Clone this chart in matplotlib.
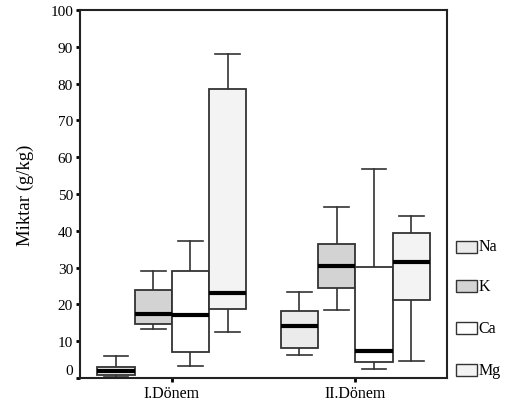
import matplotlib
matplotlib.use("Agg")
import matplotlib.pyplot as plt
import matplotlib.transforms as mtransforms
from matplotlib.patches import Rectangle

# Five-number summaries (lower whisker, Q1, median, Q3, upper whisker) in g/kg
periods = ["I.Dönem", "II.Dönem"]
elements = ["Na", "K", "Ca", "Mg"]

na_stats = [[0.3, 0.8, 2.0, 3.1, 6.0], [6.3, 8.2, 14.2, 18.1, 23.3]]
k_stats = [[13.2, 14.7, 17.4, 23.9, 29.2], [18.5, 24.5, 30.3, 36.3, 46.6]]
ca_stats = [[3.2, 7.1, 17.1, 29.0, 37.3], [2.4, 4.3, 7.3, 30.1, 56.8]]
mg_stats = [[12.6, 18.8, 23.0, 78.6, 88.1], [4.7, 21.1, 31.4, 39.3, 43.9]]

y_ticks = [0, 10, 20, 30, 40, 50, 60, 70, 80, 90, 100]

fills = {"Na": "#ebebeb", "K": "#d3d3d3", "Ca": "#ffffff", "Mg": "#f3f3f3"}
all_stats = {"Na": na_stats, "K": k_stats, "Ca": ca_stats, "Mg": mg_stats}

plt.rcParams["font.family"] = ["Liberation Serif", "DejaVu Serif"]

fig = plt.figure(figsize=(5.11, 4.10), dpi=100)
ax = fig.add_axes([0.1566, 0.0756, 0.7182, 0.8976])

box_w = 0.203
cap_w = 0.135
edge = "#333333"

for gi, period in enumerate(periods):
    center = gi + 1
    for ei, el in enumerate(elements):
        lo, q1, med, q3, hi = all_stats[el][gi]
        x = center + (ei - 1.5) * box_w
        # whiskers and caps
        ax.plot([x, x], [q3, hi], color=edge, lw=1.2, zorder=2)
        ax.plot([x, x], [lo, q1], color=edge, lw=1.2, zorder=2)
        ax.plot([x - cap_w / 2, x + cap_w / 2], [hi, hi], color=edge, lw=1.2, zorder=2)
        ax.plot([x - cap_w / 2, x + cap_w / 2], [lo, lo], color=edge, lw=1.2, zorder=2)
        ax.add_patch(Rectangle((x - box_w / 2, q1), box_w, q3 - q1,
                               facecolor=fills[el], edgecolor=edge, lw=1.3, zorder=3))
        ax.plot([x - box_w / 2, x + box_w / 2], [med, med], color="black",
                lw=3.0, solid_capstyle="butt", zorder=4)

ax.set_xlim(0.5, 2.5)
ax.set_ylim(0, 100)
ax.set_xticks([1, 2])
ax.set_xticklabels(periods, fontsize=11.5)
ax.set_yticks(y_ticks)
ax.set_yticklabels([str(v) for v in y_ticks], fontsize=11)
ax.tick_params(axis="both", direction="out", length=3, width=2, color="black", pad=2)
ax.set_ylabel("Miktar (g/kg)", fontsize=13.5, labelpad=12)
for s in ax.spines.values():
    s.set_linewidth(1.5)
    s.set_color("#222222")

# lift the zero label a little off the bottom edge
zero_lbl = ax.get_yticklabels()[0]
zero_lbl.set_transform(zero_lbl.get_transform() +
                       mtransforms.ScaledTranslation(0, 9 / 100, fig.dpi_scale_trans))

# legend on the right
leg_y = [247.5, 287, 329, 371]
for el, yp in zip(elements, leg_y):
    yf = (410 - yp) / 410
    fig.patches.append(Rectangle((456 / 511, yf - 6 / 410), 21 / 511, 12 / 410,
                                 transform=fig.transFigure, facecolor=fills[el],
                                 edgecolor="#333333", lw=1.0))
    fig.text(478.5 / 511, yf, el, fontsize=11.5, va="center", ha="left")

fig.savefig("out.png", dpi=100)
